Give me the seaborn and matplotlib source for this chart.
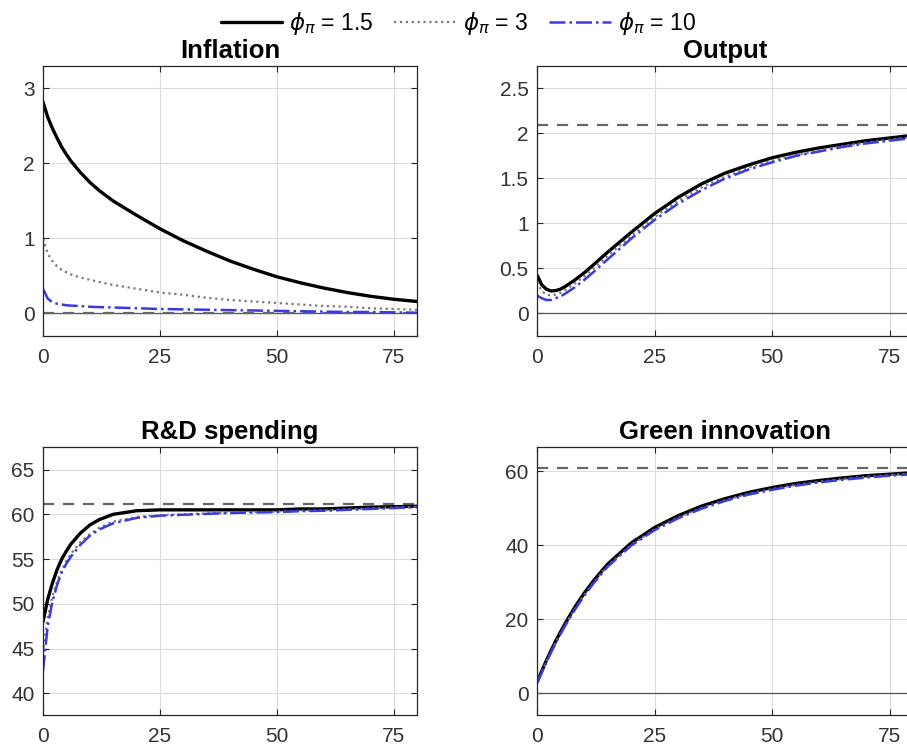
import numpy as np
import pandas as pd
import matplotlib
matplotlib.use("Agg")
import matplotlib.pyplot as plt
from matplotlib.ticker import FuncFormatter
from matplotlib.lines import Line2D
import seaborn as sns

# horizon (quarters) at which the responses are read
t = [0, 1, 2, 3, 4, 5, 6, 8, 10, 12, 15, 20, 25, 30, 35, 40, 45, 50, 55, 60, 65, 70, 75, 80]

infl_15 = [2.82, 2.62, 2.47, 2.34, 2.22, 2.12, 2.03, 1.88, 1.75, 1.64, 1.50, 1.31, 1.13, 0.97,
           0.83, 0.70, 0.59, 0.49, 0.41, 0.34, 0.28, 0.23, 0.19, 0.16]
infl_3 = [1.00, 0.80, 0.70, 0.63, 0.58, 0.55, 0.52, 0.48, 0.45, 0.42, 0.38, 0.33, 0.28, 0.25,
          0.21, 0.18, 0.16, 0.14, 0.12, 0.10, 0.09, 0.07, 0.06, 0.05]
infl_10 = [0.33, 0.20, 0.15, 0.13, 0.12, 0.11, 0.105, 0.10, 0.09, 0.085, 0.08, 0.07, 0.06, 0.055,
           0.05, 0.045, 0.04, 0.035, 0.03, 0.025, 0.02, 0.02, 0.015, 0.01]

out_15 = [0.43, 0.32, 0.27, 0.25, 0.255, 0.27, 0.30, 0.37, 0.45, 0.54, 0.68, 0.90, 1.11, 1.29,
          1.44, 1.56, 1.65, 1.73, 1.79, 1.84, 1.88, 1.92, 1.95, 1.98]
out_3 = [0.35, 0.25, 0.21, 0.20, 0.21, 0.23, 0.26, 0.33, 0.41, 0.50, 0.64, 0.86, 1.07, 1.25,
         1.40, 1.52, 1.62, 1.70, 1.76, 1.81, 1.86, 1.90, 1.93, 1.96]
out_10 = [0.20, 0.17, 0.15, 0.15, 0.17, 0.19, 0.22, 0.29, 0.37, 0.46, 0.60, 0.83, 1.04, 1.22,
          1.37, 1.50, 1.60, 1.68, 1.75, 1.80, 1.85, 1.89, 1.92, 1.95]

rd_15 = [48.0, 50.5, 52.3, 53.8, 55.0, 55.9, 56.7, 57.9, 58.8, 59.4, 60.0, 60.4, 60.5, 60.5,
         60.5, 60.5, 60.5, 60.5, 60.6, 60.6, 60.7, 60.8, 60.85, 60.9]
rd_3 = [44.5, 48.5, 50.8, 52.5, 53.8, 54.8, 55.6, 56.9, 57.8, 58.5, 59.2, 59.7, 59.9, 60.0,
        60.1, 60.2, 60.25, 60.3, 60.4, 60.45, 60.55, 60.65, 60.75, 60.85]
rd_10 = [42.5, 47.5, 50.2, 52.1, 53.5, 54.5, 55.3, 56.6, 57.6, 58.3, 59.0, 59.6, 59.85, 59.95,
         60.05, 60.15, 60.2, 60.25, 60.35, 60.4, 60.5, 60.6, 60.7, 60.8]

green_15 = [3.0, 6.0, 8.9, 11.6, 14.2, 16.6, 18.9, 23.2, 27.0, 30.4, 34.9, 40.6, 44.8, 48.0,
            50.6, 52.6, 54.3, 55.6, 56.7, 57.5, 58.2, 58.8, 59.2, 59.6]
green_3 = [2.9, 5.8, 8.6, 11.3, 13.8, 16.2, 18.5, 22.7, 26.5, 29.9, 34.4, 40.1, 44.3, 47.5,
           50.1, 52.2, 53.9, 55.2, 56.3, 57.2, 57.9, 58.5, 59.0, 59.4]
green_10 = [2.8, 5.6, 8.4, 11.1, 13.6, 16.0, 18.3, 22.5, 26.3, 29.7, 34.2, 39.9, 44.1, 47.3,
            49.9, 52.0, 53.7, 55.0, 56.1, 57.0, 57.7, 58.3, 58.8, 59.2]

titles = ["Inflation", "Output", "R&D spending", "Green innovation"]
steady = [0.0, 2.09, 61.2, 61.0]
ylims = [(-0.3, 3.3), (-0.25, 2.75), (37.6, 67.5), (-5.8, 66.5)]
yticks = [[0, 1, 2, 3], [0, 0.5, 1, 1.5, 2, 2.5], [40, 45, 50, 55, 60, 65], [0, 20, 40, 60]]
series = [(infl_15, infl_3, infl_10), (out_15, out_3, out_10),
          (rd_15, rd_3, rd_10), (green_15, green_3, green_10)]
labels = [r"$\phi_\pi$ = 1.5", r"$\phi_\pi$ = 3", r"$\phi_\pi$ = 10"]

sns.set_style("ticks")
plt.rcParams["font.family"] = ["Liberation Sans", "DejaVu Sans"]
plt.rcParams["mathtext.fontset"] = "dejavusans"

styles = [dict(color="black", linestyle="-", linewidth=2.4),
          dict(color="#7a7a7a", linestyle=":", linewidth=1.6),
          dict(color="#3a3ae0", linestyle="-.", linewidth=1.8)]

fig = plt.figure(figsize=(9.07, 7.46), dpi=100)
positions = [[0.0474, 0.5496, 0.4124, 0.362], [0.592, 0.5496, 0.415, 0.362],
             [0.0474, 0.0416, 0.4124, 0.359], [0.592, 0.0416, 0.415, 0.359]]

for k in range(4):
    ax = fig.add_axes(positions[k])
    ax.grid(True, color="#dcdcdc", linewidth=0.8)
    ax.set_axisbelow(True)
    if k != 2:
        ax.axhline(0, color="#555555", linewidth=0.9)
    ax.axhline(steady[k], color="#666666", linestyle=(0, (5, 4)), linewidth=1.6)
    for j in range(3):
        sns.lineplot(x=t, y=series[k][j], ax=ax, **styles[j])
    ax.set_xlim(0, 80)
    ax.set_ylim(*ylims[k])
    ax.set_xticks([0, 25, 50, 75])
    ax.set_yticks(yticks[k])
    ax.yaxis.set_major_formatter(FuncFormatter(lambda v, p: "%g" % v))
    ax.tick_params(direction="in", top=True, right=True, labelsize=15,
                   labelcolor="#333333", color="#262626", length=4, pad=6)
    ax.tick_params(axis="x", pad=9)
    for s in ax.spines.values():
        s.set_color("#262626")
        s.set_linewidth(0.9)
    ax.set_xlabel("")
    ax.set_ylabel("")
    ax.set_title(titles[k], fontsize=18.5, fontweight="bold", color="black", pad=6)

handles = [Line2D([], [], **styles[j]) for j in range(3)]
fig.legend(handles, labels, loc="center", bbox_to_anchor=(0.505, 0.968), ncol=3,
           frameon=False, fontsize=16.5, handlelength=2.7, handletextpad=0.3,
           columnspacing=0.9, borderaxespad=0, labelcolor="black")

fig.savefig("out.png", dpi=100)
